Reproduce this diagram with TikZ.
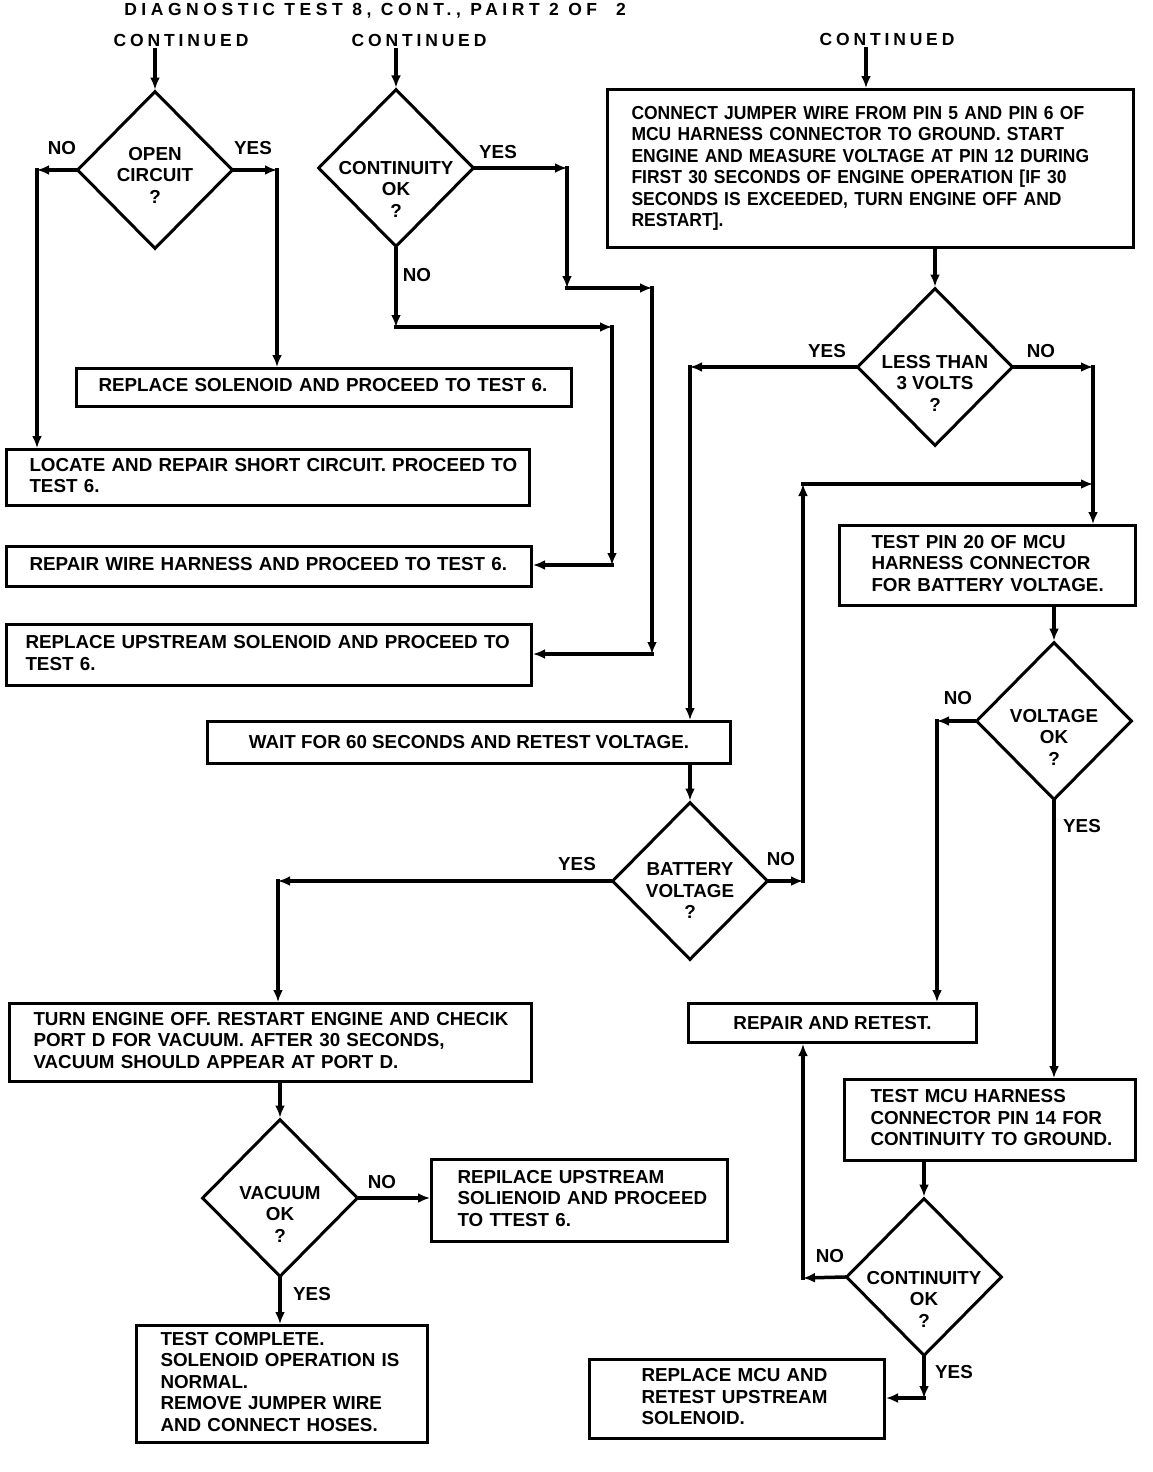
\documentclass[tikz,border=0pt]{standalone}
\usepackage{fontspec}
\setmainfont{Liberation Sans}
\newfontfamily\narrowfont{Liberation Sans}[FakeStretch=0.93]
\newfontfamily\spacedfont{Liberation Sans}[LetterSpace=22]
\newfontfamily\titlefont{Liberation Sans}[LetterSpace=26]
\usepackage{tikz}
\usetikzlibrary{arrows.meta}
\usetikzlibrary{shapes.geometric}

\newcommand{\boxfont}{\fontsize{18.8}{21.5}\selectfont\bfseries}
\newcommand{\narrowboxfont}{\narrowfont\fontsize{18.8}{21.5}\selectfont\bfseries}
\newcommand{\headfont}{\spacedfont\fontsize{17.5}{20}\selectfont\bfseries}
\newcommand{\titlehead}{\titlefont\fontsize{17.5}{20}\selectfont\bfseries}
\newcommand{\boxlines}[1]{\begin{tabular}{@{}l@{}}#1\end{tabular}}

\begin{document}
\begin{tikzpicture}[x=1pt, y=-1pt,
        box/.style={draw, line width=3pt, anchor=north west, inner xsep=0pt, inner ysep=0pt, align=left, font=\boxfont},
        decision/.style={draw, shape=diamond, line width=3pt, minimum width=156pt, minimum height=158pt, inner sep=0pt},
        qtext/.style={align=center, font=\boxfont},
        lbl/.style={font=\boxfont},
        head/.style={font=\headfont},
        arrow/.style={line width=3.5pt, line cap=rect, -{Latex[length=12pt,width=10pt]}}]
            \useasboundingbox (0,0) rectangle (1152,1472);

            % headings
            \node[head, font=\titlehead] (title) at (375,11) {DIAGNOSTIC TEST 8, CONT., PAIRT 2 OF~~2};
            \node[head] (contA) at (181,40) {CONTINUED};
            \node[head] (contB) at (419,40) {CONTINUED};
            \node[head] (contC) at (887,39) {CONTINUED};

            % decisions
            \node[decision] (open) at (155,170) {};
            \node[qtext] (openq) at (155,175) {OPEN\\CIRCUIT\\?};
            \node[decision] (cok) at (396,168) {};
            \node[qtext] (cokq) at (396,189) {CONTINUITY\\OK\\?};
            \node[decision] (less) at (935,367) {};
            \node[qtext] (lessq) at (935,383) {LESS THAN\\3 VOLTS\\?};
            \node[decision] (volt) at (1054,721) {};
            \node[qtext] (voltq) at (1054,737) {VOLTAGE\\OK\\?};
            \node[decision] (batt) at (690,881) {};
            \node[qtext] (battq) at (690,891) {BATTERY\\VOLTAGE\\?};
            \node[decision] (vac) at (280,1198) {};
            \node[qtext] (vacq) at (280,1214) {VACUUM\\OK\\?};
            \node[decision] (cont) at (924,1277) {};
            \node[qtext] (contq) at (924,1299) {CONTINUITY\\OK\\?};

            % boxes
            \node[box, minimum width=495pt, minimum height=38pt, text width=451pt] (solenoid) at (75,367)
                {\boxlines{REPLACE SOLENOID AND PROCEED TO TEST 6.}};
            \node[box, minimum width=523pt, minimum height=56pt, text width=477pt] (locate) at (5,448)
                {\boxlines{LOCATE AND REPAIR SHORT CIRCUIT. PROCEED TO\\TEST 6.}};
            \node[box, minimum width=525pt, minimum height=40pt, text width=479pt] (harness) at (5,545)
                {\boxlines{REPAIR WIRE HARNESS AND PROCEED TO TEST 6.}};
            \node[box, minimum width=525pt, minimum height=61pt, text width=487pt] (upstream) at (5,623)
                {\boxlines{REPLACE UPSTREAM SOLENOID AND PROCEED TO\\TEST 6.}};
            \node[box, align=center, minimum width=523pt, minimum height=42pt] (wait) at (206,720)
                {WAIT FOR 60 SECONDS AND RETEST VOLTAGE.};
            \node[box, minimum width=522pt, minimum height=78pt, text width=474pt] (engine) at (8,1002)
                {\boxlines{TURN ENGINE OFF. RESTART ENGINE AND CHECIK\\PORT D FOR VACUUM. AFTER 30 SECONDS,\\VACUUM SHOULD APPEAR AT PORT D.}};
            \node[box, minimum width=296pt, minimum height=82pt, text width=244pt] (upstream2) at (430,1158)
                {\boxlines{REPILACE UPSTREAM\\SOLIENOID AND PROCEED\\TO TTEST 6.}};
            \node[box, minimum width=291pt, minimum height=117pt, text width=243pt] (complete) at (135,1324)
                {\boxlines{TEST COMPLETE.\\SOLENOID OPERATION IS\\NORMAL.\\REMOVE JUMPER WIRE\\AND CONNECT HOSES.}};
            \node[box, font=\narrowboxfont, minimum width=526pt, minimum height=158pt, text width=478pt] (connect) at (606,88)
                {\boxlines{CONNECT JUMPER WIRE FROM PIN 5 AND PIN 6 OF\\MCU HARNESS CONNECTOR TO GROUND. START\\ENGINE AND MEASURE VOLTAGE AT PIN 12 DURING\\FIRST 30 SECONDS OF ENGINE OPERATION [IF 30\\SECONDS IS EXCEEDED, TURN ENGINE OFF AND\\RESTART].}};
            \node[box, minimum width=296pt, minimum height=80pt, text width=232pt] (pin20) at (838,524)
                {\boxlines{TEST PIN 20 OF MCU\\HARNESS CONNECTOR\\FOR BATTERY VOLTAGE.}};
            \node[box, align=center, minimum width=288pt, minimum height=39pt] (retest) at (687,1002)
                {REPAIR AND RETEST.};
            \node[box, minimum width=291pt, minimum height=81pt, text width=239pt] (mcu14) at (843,1078)
                {\boxlines{TEST MCU HARNESS\\CONNECTOR PIN 14 FOR\\CONTINUITY TO GROUND.}};
            \node[box, minimum width=295pt, minimum height=79pt, text width=191pt] (replmcu) at (588,1358)
                {\boxlines{REPLACE MCU AND\\RETEST UPSTREAM\\SOLENOID.}};

            % yes / no labels
            \node[lbl] (noOpen) at (62,148) {NO};
            \node[lbl] (yesOpen) at (253,148) {YES};
            \node[lbl] (yesCok) at (498,152) {YES};
            \node[lbl] (noCok) at (417,275) {NO};
            \node[lbl] (yesLess) at (827,351) {YES};
            \node[lbl] (noLess) at (1041,351) {NO};
            \node[lbl] (noVolt) at (958,698) {NO};
            \node[lbl] (yesVolt) at (1082,826) {YES};
            \node[lbl] (yesBatt) at (577,864) {YES};
            \node[lbl] (noBatt) at (781,859) {NO};
            \node[lbl] (noVac) at (382,1182) {NO};
            \node[lbl] (yesVac) at (312,1294) {YES};
            \node[lbl] (noCont) at (830,1256) {NO};
            \node[lbl] (yesCont) at (954,1372) {YES};

            % corners
            \coordinate (openL) at (37,170);
            \coordinate (openR) at (277,170);
            \coordinate (cokR) at (567,168);
            \coordinate (cokR2) at (567,288);
            \coordinate (cokR3) at (652,288);
            \coordinate (cokR4) at (652,654);
            \coordinate (cokD) at (396,327);
            \coordinate (cokD2) at (612,327);
            \coordinate (cokD3) at (612,565);
            \coordinate (top3) at (866,0);
            \coordinate (lessL) at (690,367);
            \coordinate (lessR) at (1093,367);
            \coordinate (voltL) at (937,721);
            \coordinate (battL) at (278,881);
            \coordinate (battR) at (803,881);
            \coordinate (battUp) at (803,484);
            \coordinate (contL) at (803,1278);
            \coordinate (contD) at (924,1398);

            % left flow
            \draw[arrow] (contA.south -| open.north) -- (open.north);
            \draw[arrow] (open.west) -- (openL);
            \draw[arrow] (openL) -- (openL |- locate.north);
            \draw[arrow] (open.east) -- (openR);
            \draw[arrow] (openR) -- (openR |- solenoid.north);

            \draw[arrow] (contB.south -| cok.north) -- (cok.north);
            \draw[arrow] (cok.east) -- (cokR);
            \draw[arrow] (cokR) -- (cokR2);
            \draw[arrow] (cokR2) -- (cokR3);
            \draw[arrow] (cokR3) -- (cokR4);
            \draw[arrow] (cokR4) -- (cokR4 -| upstream.east);
            \draw[arrow] (cok.south) -- (cokD);
            \draw[arrow] (cokD) -- (cokD2);
            \draw[arrow] (cokD2) -- (cokD3);
            \draw[arrow] (cokD3) -- (cokD3 -| harness.east);

            % right flow
            \draw[arrow] (contC.south -| top3) -- (connect.north -| top3);
            \draw[arrow] (connect.south -| less.north) -- (less.north);
            \draw[arrow] (less.west) -- (lessL);
            \draw[arrow] (lessL) -- (lessL |- wait.north);
            \draw[arrow] (less.east) -- (lessR);
            \draw[arrow] (lessR) -- (lessR |- pin20.north);

            \draw[arrow] (pin20.south -| volt.north) -- (volt.north);
            \draw[arrow] (volt.west) -- (voltL);
            \draw[arrow] (voltL) -- (voltL |- retest.north);
            \draw[arrow] (volt.south) -- (volt.south |- mcu14.north);

            \draw[arrow] (wait.south -| batt.north) -- (batt.north);
            \draw[arrow] (batt.west) -- (battL);
            \draw[arrow] (battL) -- (battL |- engine.north);
            \draw[arrow] (batt.east) -- (battR);
            \draw[arrow] (battR) -- (battUp);
            \draw[arrow] (battUp) -- (battUp -| lessR);

            \draw[arrow] (engine.south -| vac.north) -- (vac.north);
            \draw[arrow] (vac.east) -- (vac.east -| upstream2.west);
            \draw[arrow] (vac.south) -- (vac.south |- complete.north);

            \draw[arrow] (mcu14.south -| cont.north) -- (cont.north);
            \draw[arrow] (cont.west) -- (contL);
            \draw[arrow] (contL) -- (contL |- retest.south);
            \draw[arrow] (cont.south) -- (contD);
            \draw[arrow] (contD) -- (contD -| replmcu.east);
        \end{tikzpicture}
\end{document}
